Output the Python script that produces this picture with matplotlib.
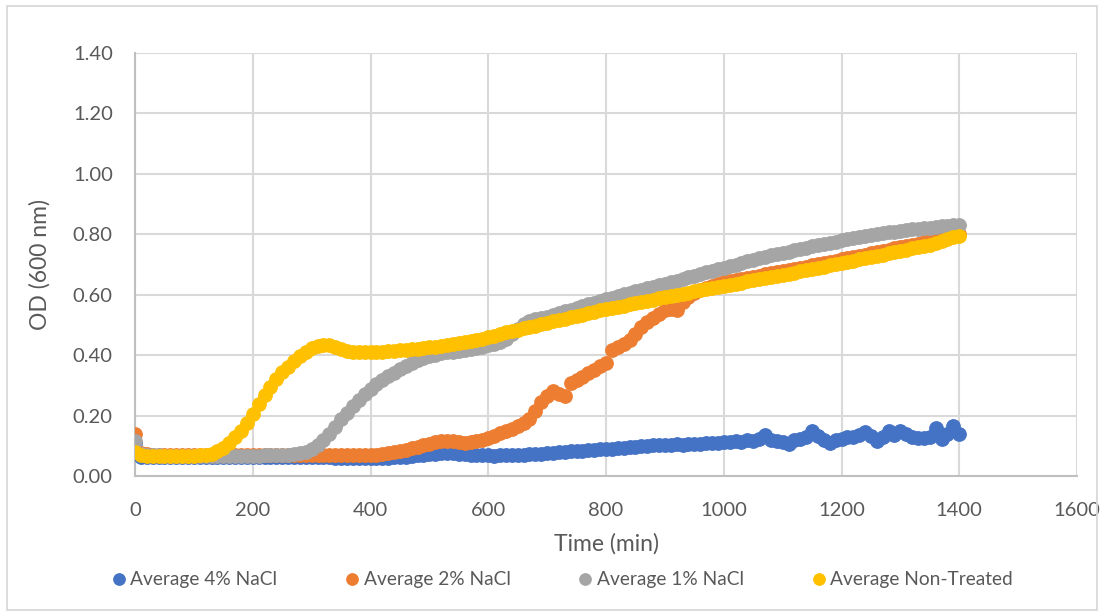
import numpy as np
import matplotlib
matplotlib.use("Agg")
import matplotlib.pyplot as plt
from matplotlib.patches import Rectangle

plt.rcParams["font.family"] = ["Lato", "DejaVu Sans"]

# Sampling times (min), one reading every 10 minutes
time_min = np.arange(0, 1401, 10)

# Average optical density at 600 nm for each treatment
od_4pct = [
    0.108, 0.064, 0.063, 0.063, 0.062, 0.062, 0.062, 0.062, 0.062, 0.062,
    0.062, 0.062, 0.062, 0.062, 0.062, 0.062, 0.062, 0.062, 0.062, 0.062,
    0.062, 0.062, 0.062, 0.062, 0.062, 0.062, 0.062, 0.062, 0.062, 0.062,
    0.062, 0.062, 0.062, 0.062, 0.061, 0.061, 0.061, 0.061, 0.061, 0.061,
    0.060, 0.060, 0.061, 0.061, 0.062, 0.063, 0.064, 0.066, 0.068, 0.070,
    0.072, 0.074, 0.076, 0.077, 0.076, 0.074, 0.072, 0.071, 0.070, 0.069,
    0.068, 0.067, 0.068, 0.068, 0.069, 0.070, 0.071, 0.072, 0.073, 0.074,
    0.075, 0.077, 0.079, 0.081, 0.082, 0.083, 0.084, 0.086, 0.087, 0.088,
    0.089, 0.091, 0.093, 0.094, 0.095, 0.097, 0.098, 0.100, 0.101, 0.102,
    0.103, 0.104, 0.105, 0.104, 0.106, 0.107, 0.106, 0.108, 0.110, 0.109,
    0.113, 0.112, 0.116, 0.114, 0.118, 0.116, 0.122, 0.135, 0.120, 0.116,
    0.112, 0.106, 0.118, 0.122, 0.128, 0.148, 0.132, 0.120, 0.108, 0.118,
    0.124, 0.130, 0.128, 0.136, 0.145, 0.132, 0.116, 0.128, 0.148, 0.136,
    0.150, 0.138, 0.128, 0.126, 0.127, 0.130, 0.158, 0.123, 0.140, 0.165,
    0.138,
]

od_2pct = [
    0.140, 0.075, 0.072, 0.071, 0.071, 0.071, 0.071, 0.071, 0.071, 0.071,
    0.071, 0.071, 0.071, 0.071, 0.071, 0.071, 0.071, 0.071, 0.071, 0.071,
    0.071, 0.071, 0.071, 0.071, 0.071, 0.071, 0.071, 0.071, 0.071, 0.071,
    0.071, 0.071, 0.071, 0.071, 0.071, 0.071, 0.070, 0.070, 0.070, 0.070,
    0.070, 0.071, 0.073, 0.076, 0.079, 0.083, 0.087, 0.092, 0.097, 0.102,
    0.107, 0.111, 0.115, 0.117, 0.115, 0.111, 0.109, 0.111, 0.115, 0.120,
    0.127, 0.134, 0.141, 0.149, 0.157, 0.165, 0.175, 0.188, 0.215, 0.245,
    0.265, 0.280, 0.272, 0.264, 0.308, 0.318, 0.328, 0.340, 0.352, 0.365,
    0.375, 0.418, 0.428, 0.438, 0.450, 0.470, 0.492, 0.510, 0.522, 0.535,
    0.548, 0.552, 0.548, 0.575, 0.592, 0.605, 0.615, 0.623, 0.630, 0.636,
    0.641, 0.645, 0.649, 0.652, 0.656, 0.660, 0.663, 0.667, 0.671, 0.674,
    0.678, 0.682, 0.685, 0.689, 0.693, 0.697, 0.701, 0.705, 0.709, 0.713,
    0.717, 0.721, 0.725, 0.729, 0.733, 0.737, 0.741, 0.745, 0.749, 0.753,
    0.757, 0.761, 0.765, 0.769, 0.773, 0.778, 0.782, 0.787, 0.792, 0.797,
    0.800,
]

od_1pct = [
    0.116, 0.072, 0.069, 0.068, 0.068, 0.067, 0.067, 0.067, 0.067, 0.067,
    0.067, 0.067, 0.067, 0.067, 0.067, 0.067, 0.067, 0.067, 0.067, 0.067,
    0.067, 0.067, 0.068, 0.068, 0.069, 0.070, 0.071, 0.073, 0.076, 0.081,
    0.090, 0.102, 0.118, 0.140, 0.163, 0.187, 0.210, 0.232, 0.253, 0.272,
    0.288, 0.303, 0.317, 0.330, 0.342, 0.353, 0.364, 0.374, 0.383, 0.391,
    0.398, 0.402, 0.406, 0.409, 0.411, 0.413, 0.416, 0.419, 0.423, 0.427,
    0.432, 0.437, 0.444, 0.455, 0.470, 0.488, 0.502, 0.512, 0.518, 0.523,
    0.527, 0.533, 0.539, 0.545, 0.551, 0.556, 0.562, 0.568, 0.573, 0.579,
    0.585, 0.590, 0.596, 0.601, 0.606, 0.611, 0.616, 0.621, 0.626, 0.631,
    0.636, 0.642, 0.647, 0.652, 0.658, 0.663, 0.669, 0.674, 0.680, 0.685,
    0.690, 0.695, 0.700, 0.705, 0.710, 0.715, 0.720, 0.725, 0.730, 0.734,
    0.739, 0.743, 0.748, 0.752, 0.756, 0.760, 0.764, 0.768, 0.772, 0.776,
    0.780, 0.783, 0.787, 0.790, 0.794, 0.797, 0.800, 0.803, 0.806, 0.809,
    0.811, 0.814, 0.816, 0.818, 0.820, 0.822, 0.824, 0.826, 0.828, 0.830,
    0.832,
]

od_untreated = [
    0.078, 0.068, 0.067, 0.067, 0.066, 0.066, 0.066, 0.066, 0.066, 0.067,
    0.067, 0.068, 0.070, 0.074, 0.082, 0.094, 0.110, 0.128, 0.150, 0.176,
    0.205, 0.238, 0.268, 0.296, 0.322, 0.343, 0.362, 0.380, 0.396, 0.410,
    0.422, 0.431, 0.435, 0.432, 0.426, 0.420, 0.415, 0.412, 0.410, 0.410,
    0.410, 0.411, 0.412, 0.413, 0.414, 0.416, 0.417, 0.419, 0.421, 0.423,
    0.426, 0.428, 0.431, 0.433, 0.436, 0.439, 0.442, 0.446, 0.450, 0.455,
    0.460, 0.465, 0.470, 0.475, 0.480, 0.484, 0.489, 0.494, 0.498, 0.503,
    0.507, 0.512, 0.516, 0.521, 0.525, 0.530, 0.534, 0.539, 0.543, 0.548,
    0.552, 0.556, 0.560, 0.564, 0.568, 0.572, 0.576, 0.580, 0.584, 0.588,
    0.592, 0.596, 0.600, 0.604, 0.607, 0.611, 0.615, 0.618, 0.622, 0.626,
    0.629, 0.633, 0.637, 0.640, 0.644, 0.648, 0.651, 0.655, 0.659, 0.662,
    0.666, 0.670, 0.673, 0.677, 0.681, 0.685, 0.689, 0.693, 0.697, 0.701,
    0.705, 0.709, 0.713, 0.717, 0.721, 0.725, 0.729, 0.733, 0.737, 0.741,
    0.745, 0.749, 0.753, 0.757, 0.761, 0.766, 0.771, 0.777, 0.784, 0.791,
    0.795,
]

series_labels = ["Average 4% NaCl", "Average 2% NaCl", "Average 1% NaCl",
                 "Average Non-Treated"]
series_colors = ["#4472C4", "#ED7D31", "#A5A5A5", "#FFC000"]

x_ticks = [0, 200, 400, 600, 800, 1000, 1200, 1400, 1600]
y_ticks = [0.0, 0.2, 0.4, 0.6, 0.8, 1.0, 1.2, 1.4]

text_color = "#595959"
grid_color = "#D9D9D9"

fig = plt.figure(figsize=(11.04, 6.16), dpi=100)
fig.patch.set_facecolor("white")
fig.patches.append(Rectangle((7 / 1104, 6 / 616), 1090 / 1104, 604 / 616,
                             transform=fig.transFigure, fill=False,
                             edgecolor=grid_color, linewidth=1.3))

ax = fig.add_axes([135 / 1104, 1 - 476 / 616, 942 / 1104, 423 / 616])

for values, label, color in zip([od_4pct, od_2pct, od_1pct, od_untreated],
                                series_labels, series_colors):
    ax.plot(time_min, values, linestyle="none", marker="o", markersize=9.8,
            markerfacecolor=color, markeredgecolor=color, markeredgewidth=0.8,
            label=label, zorder=3)

ax.set_xlim(0, 1600)
ax.set_ylim(0, 1.4)
ax.set_xticks(x_ticks)
ax.set_yticks(y_ticks)
ax.set_xticklabels([str(v) for v in x_ticks])
ax.set_yticklabels([f"{v:.2f}" for v in y_ticks])
ax.grid(True, color=grid_color, linewidth=1.5, zorder=0)
ax.set_axisbelow(True)
for side in ["top", "right"]:
    ax.spines[side].set_visible(False)
for side in ["left", "bottom"]:
    ax.spines[side].set_color("#BFBFBF")
    ax.spines[side].set_linewidth(1.5)
ax.tick_params(axis="both", length=0, labelsize=14.5, colors=text_color)
ax.tick_params(axis="y", pad=16)
ax.tick_params(axis="x", pad=19)

ax.set_xlabel("Time (min)", fontsize=16.5, color=text_color, labelpad=10)
ax.set_ylabel("OD (600 nm)", fontsize=16.5, color=text_color, labelpad=16)

leg = fig.legend(loc="center", bbox_to_anchor=(0.51, 1 - 580 / 616), ncol=4,
                 frameon=False, fontsize=13.8, labelcolor=text_color,
                 handlelength=0.6, handletextpad=0.3, columnspacing=3.6,
                 markerscale=0.85)

fig.savefig("out.png", dpi=100, facecolor="white")
